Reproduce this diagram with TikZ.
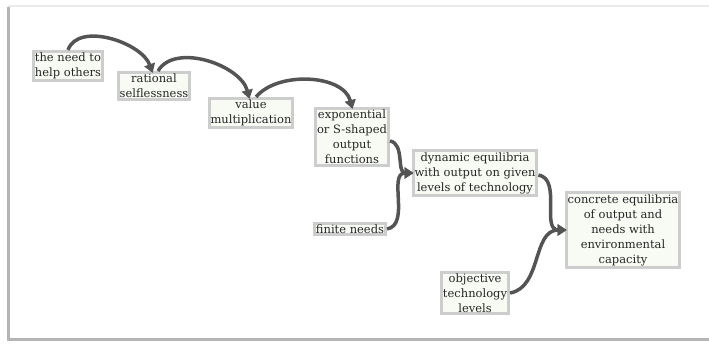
\documentclass[tikz,border=0pt]{standalone}
\usepackage{fontspec}
\setmainfont{DejaVu Serif}
\usetikzlibrary{arrows.meta}
\definecolor{boxline}{HTML}{CDCDCD}
\definecolor{boxfill}{HTML}{F7FBF4}
\definecolor{flow}{HTML}{545454}
\definecolor{frame}{HTML}{B4B4B4}

\begin{document}
\begin{tikzpicture}[
    x=1pt, y=-1pt,
    all/.style={draw=boxline, line width=3pt, fill=boxfill, inner sep=1.5pt,
        text=black!85, font=\fontsize{11.5}{15}\selectfont, align=center},
    idea/.style={all},
    start/.style={all, align=left},
    link/.style={draw=flow, line width=3.5pt,
        -{Triangle[length=9pt, width=11pt]}, shorten >=-2pt},
]
    \useasboundingbox (0,0) rectangle (709,344);
    \draw [frame, line width=3pt] (8,7) -- (8,340) -- (709,340);
    \draw [black!8, line width=2pt] (8,6) -- (709,6);

    \node [start] (need) at (68,66) {the need to\\help others};
    \node [idea] (rational) at (154,86) {rational\\selflessness};
    \node [idea] (value) at (251,113) {value\\multiplication};
    \node [idea] (expo) at (352,137) {exponential\\or S-shaped\\output\\functions};
    \node [idea] (dynamic) at (475,173) {dynamic equilibria\\with output on given\\levels of technology};
    \node [idea] (finite) at (350,229) {finite needs};
    \node [idea] (concrete) at (623,230) {concrete equilibria\\of output and\\needs with\\environmental\\capacity};
    \node [idea] (objective) at (475,293) {objective\\technology\\levels};

    \draw [link] (need.north) to[out=70, in=110, looseness=0.9] ([xshift=-2pt]rational.north);
    \draw [link] ([xshift=4pt]rational.north) to[out=60, in=105, looseness=0.9] ([xshift=-2pt]value.north);
    \draw [link] ([xshift=5pt]value.north) to[out=50, in=105, looseness=0.9] (expo.north);
    \draw [link] ([yshift=-4pt]expo.east) to[out=-10, in=180] (dynamic.west);
    \draw [link] (finite.east) to[out=10, in=180] (dynamic.west);
    \draw [link] ([yshift=-2pt]dynamic.east) to[out=-10, in=180] (concrete.west);
    \draw [link] (objective.east) to[out=10, in=180] (concrete.west);
\end{tikzpicture}
\end{document}
